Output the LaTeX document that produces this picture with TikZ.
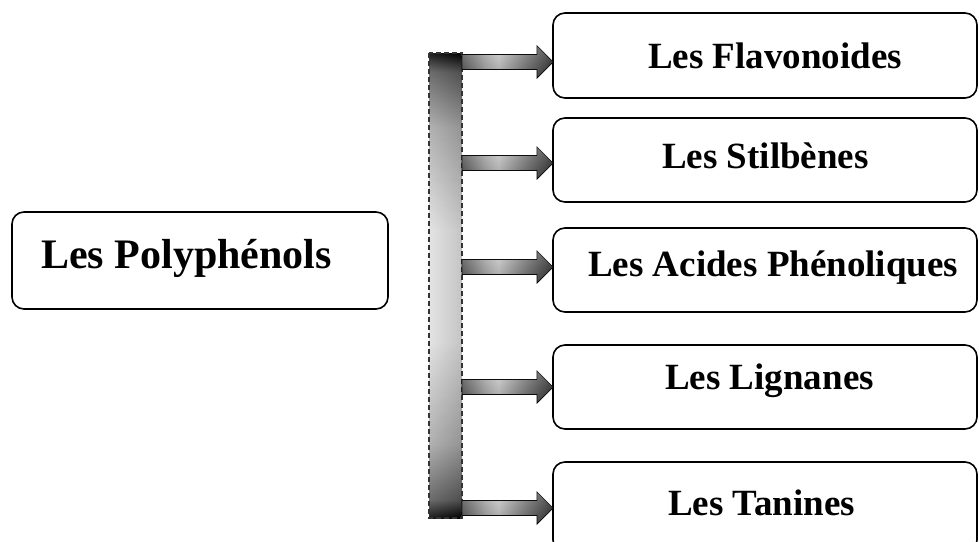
\documentclass[tikz,border=0pt]{standalone}
\usepackage{fontspec}
\setmainfont{Liberation Serif}
\usetikzlibrary{calc}
\pgfdeclareverticalshading{barshade}{100bp}{color(0bp)=(black); color(25bp)=(black); color(27bp)=(black!60); color(33bp)=(black!25); color(44bp)=(white); color(56bp)=(white); color(67bp)=(black!25); color(73bp)=(black!60); color(75bp)=(black); color(100bp)=(black)}
\pgfdeclarehorizontalshading{arrshade}{100bp}{color(0bp)=(black!55); color(25bp)=(black!55); color(38bp)=(black!15); color(45bp)=(white); color(58bp)=(black!35); color(70bp)=(black!65); color(75bp)=(black!80); color(100bp)=(black!80)}
\begin{document}
\begin{tikzpicture}[x=1pt,y=-1pt,
  box/.style={draw=black, line width=1.6pt, rounded corners=12pt, inner sep=0pt, outer sep=0pt, anchor=north west},
  lbl/.style={font=\bfseries\fontsize{37}{37}\selectfont, anchor=base west, inner sep=0pt},
  biglbl/.style={font=\bfseries\fontsize{42}{42}\selectfont, anchor=base west, inner sep=0pt},
  barstyle/.style={shading=barshade, shade, inner sep=0pt, outer sep=0pt, minimum width=33pt, minimum height=465pt, anchor=north west},
  barline/.style={draw=black!80, dash pattern=on 5pt off 3pt, line width=1.1pt},
  barglow/.style={left color=white, right color=black, opacity=0.12},
  blockarrow/.style={draw=black, line width=0.7pt, shading=arrshade},
  arrowglow/.style={top color=white, bottom color=black, opacity=0.2}
]
\useasboundingbox (0,0) rectangle (979,541);
\clip (0,0) rectangle (979,541);
% left box
\node[box, minimum width=376pt, minimum height=97pt] (poly) at (12,212) {};
\node[biglbl] (tpoly) at (41,268) {Les Polyphénols};
% right boxes
\node[box, minimum width=424pt, minimum height=85pt] (flav) at (553,13) {};
\node[box, minimum width=424pt, minimum height=84pt] (stil) at (553,118) {};
\node[box, minimum width=424pt, minimum height=84pt] (acid) at (553,228) {};
\node[box, minimum width=424pt, minimum height=84pt] (lign) at (553,345) {};
\node[box, minimum width=424pt, minimum height=90pt] (tan) at (553,462) {};
\node[lbl] (tflav) at (648,68) {Les Flavonoides};
\node[lbl] (tstil) at (662,168) {Les Stilbènes};
\node[lbl] (tacid) at (588,276) {Les Acides Phénoliques};
\node[lbl] (tlign) at (665,389) {Les Lignanes};
\node[lbl] (ttan) at (668,515) {Les Tanines};
% bar
\node[barstyle] (bar) at (429,53) {};
\fill[barglow] (bar.north west) rectangle (bar.south east);
\draw[barline] (bar.north west) rectangle (bar.south east);
% block arrows
\foreach \b/\yy in {flav/62, stil/163, acid/267, lign/387, tan/508}{
  \shadedraw[blockarrow] let \p1=(bar.east), \p2=(\b.west) in
    (\x1,\yy-7.5) -- (\x2-16pt,\yy-7.5) -- (\x2-16pt,\yy-16) -- (\x2,\yy) --
    (\x2-16pt,\yy+16) -- (\x2-16pt,\yy+7.5) -- (\x1,\yy+7.5) -- cycle;
  \fill[arrowglow] let \p1=(bar.east), \p2=(\b.west) in
    (\x1,\yy-7.5) -- (\x2-16pt,\yy-7.5) -- (\x2-16pt,\yy-16) -- (\x2,\yy) --
    (\x2-16pt,\yy+16) -- (\x2-16pt,\yy+7.5) -- (\x1,\yy+7.5) -- cycle;
}
\end{tikzpicture}
\end{document}
